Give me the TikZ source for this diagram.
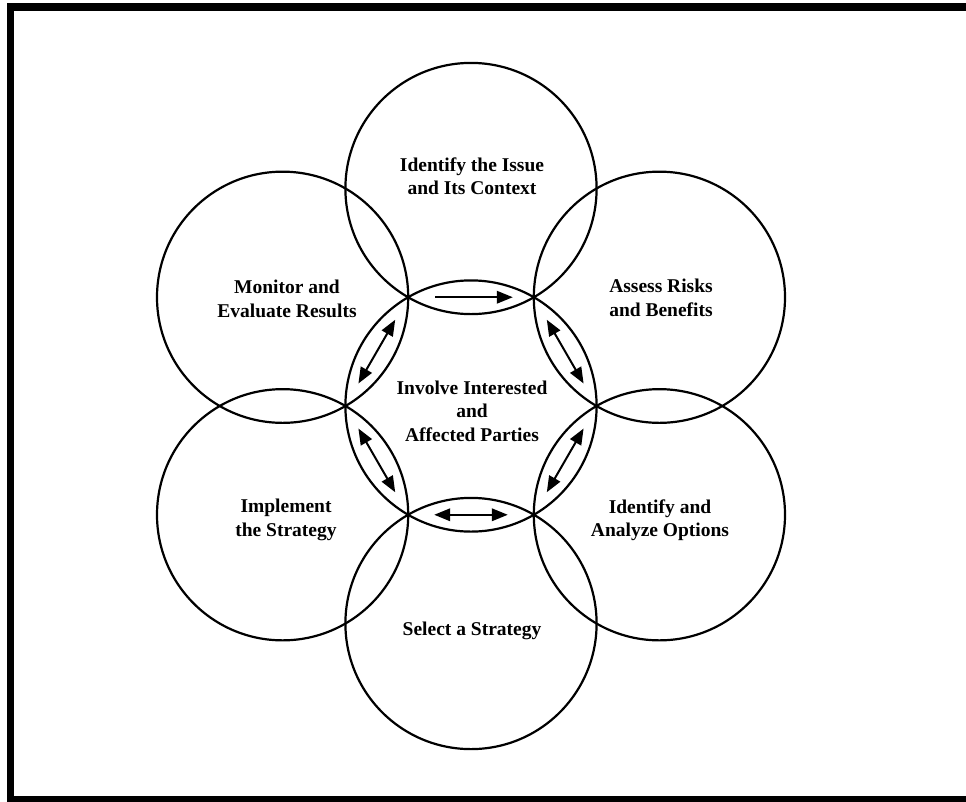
\documentclass[tikz,border=0pt]{standalone}
\usepackage{fontspec}
\setmainfont{Liberation Serif}
\usetikzlibrary{arrows.meta}
\begin{document}
\begin{tikzpicture}[x=1pt,y=-1pt,
  ring/.style={circle,draw,line width=2.2pt,minimum size=251.2pt,inner sep=0pt,outer sep=0pt},
  lbl/.style={align=center,font=\fontsize{19.5}{23.5}\selectfont\bfseries,inner sep=0pt},
  flow/.style={line width=2pt,shorten <=26pt,shorten >=26pt},
  >={Triangle[length=16pt,width=12.5pt]}
]
\useasboundingbox (0,0) rectangle (966,801);
\begin{scope}
\clip (0,0) rectangle (966,801);
\draw[line width=7.5pt] (10.5,7) rectangle (990,800);
\end{scope}

\node[ring] (c)  at (471,406) {};
\node[ring] (t)  at (471,188.5) {};
\node[ring] (ur) at (659.4,297.25) {};
\node[ring] (lr) at (659.4,514.75) {};
\node[ring] (b)  at (471,623.5) {};
\node[ring] (ll) at (282.6,514.75) {};
\node[ring] (ul) at (282.6,297.25) {};

\draw[->,flow,shorten <=27pt,shorten >=21pt] (c.120) -- (c.60);
\draw[<->,flow] (c.60) -- (c.0);
\draw[<->,flow] (c.0) -- (c.300);
\draw[<->,flow] (c.300) -- (c.240);
\draw[<->,flow] (c.240) -- (c.180);
\draw[<->,flow] (c.180) -- (c.120);

\node[lbl] (tt)  at (472,176) {Identify the Issue\\and Its Context};
\node[lbl] (tul) at (287,299) {Monitor and\\Evaluate Results};
\node[lbl] (tur) at (661,298) {Assess Risks\\and Benefits};
\node[lbl] (tc)  at (472,411) {Involve Interested\\and\\Affected Parties};
\node[lbl] (tll) at (286,520) {Implement\\the Strategy};
\node[lbl] (tlr) at (660,520) {Identify and\\Analyze Options};
\node[lbl] (tb)  at (472,631) {Select a Strategy};
\end{tikzpicture}
\end{document}
